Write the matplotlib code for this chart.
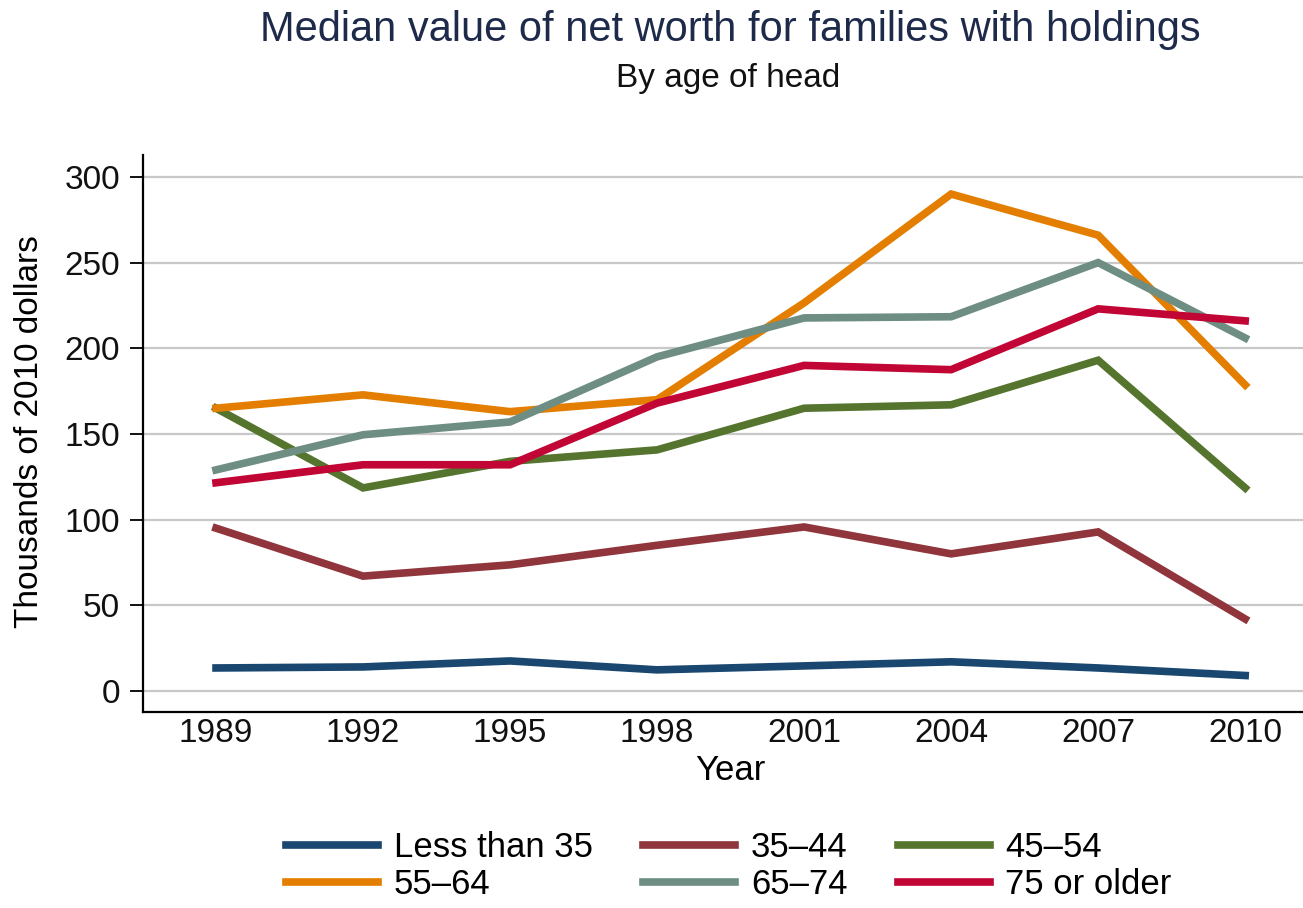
import matplotlib
matplotlib.use("Agg")
import matplotlib.pyplot as plt

plt.rcParams["font.family"] = ["Liberation Sans", "DejaVu Sans"]

years = [1989, 1992, 1995, 1998, 2001, 2004, 2007, 2010]
less35 = [13.4, 14.0, 17.5, 12.3, 14.6, 17.0, 13.4, 9.0]
age35_44 = [95.0, 67.0, 73.6, 85.0, 95.7, 80.0, 92.8, 42.0]
age45_54 = [165.0, 118.5, 134.0, 140.7, 165.0, 167.0, 193.0, 118.5]
age55_64 = [165.0, 172.8, 163.0, 170.0, 226.5, 290.0, 266.0, 178.6]
age65_74 = [129.0, 149.5, 157.0, 195.0, 217.7, 218.4, 250.0, 206.0]
age75up = [121.5, 132.0, 132.0, 168.0, 190.0, 187.5, 223.0, 216.0]

labels = ["Less than 35", "35\u201344", "45\u201354", "55\u201364", "65\u201374", "75 or older"]
colors = ["#1a476f", "#90353b", "#55752f", "#e37e00", "#6e8e84", "#c10534"]
series = [less35, age35_44, age45_54, age55_64, age65_74, age75up]

W, H = 1303, 908
fig = plt.figure(figsize=(W / 100, H / 100), dpi=100)
ax = fig.add_axes([143 / W, 1 - 712 / H, (W - 143) / W, (712 - 155) / H])

lines = []
for vals, lab, col in zip(series, labels, colors):
    l, = ax.plot(years, vals, color=col, lw=5.5, label=lab, solid_joinstyle="miter")
    lines.append(l)

ax.set_xlim(1987.51, 2011.18)
ax.set_ylim(-12.3, 312.8)
ax.set_xticks(years)
ax.set_yticks(range(0, 301, 50))
ax.yaxis.grid(True, color="#c8c8c8", lw=1.6)
ax.set_axisbelow(True)
for s in ["top", "right"]:
    ax.spines[s].set_visible(False)
ax.spines["left"].set_linewidth(1.6)
ax.spines["bottom"].set_linewidth(1.6)
ax.tick_params(axis="both", labelsize=24, colors="#111111")
ax.tick_params(axis="y", length=9.5, width=1.4, pad=7)
ax.tick_params(axis="x", length=0, pad=4)

fig.text(730 / W, 1 - 770 / H, "Year", ha="center", va="center", fontsize=25)
fig.text(30 / W, 1 - 432 / H, "Thousands of 2010 dollars", ha="center", va="center",
         rotation=90, fontsize=24)

fig.text(730 / W, 1 - 30 / H, "Median value of net worth for families with holdings",
         ha="center", va="center", fontsize=30, color="#1e2a4a")
fig.text(728 / W, 1 - 78 / H, "By age of head", ha="center", va="center", fontsize=24,
         color="#111111")

# legend: matplotlib fills columns, so reorder to get row-wise layout
order = [0, 3, 1, 4, 2, 5]
fig.legend([lines[i] for i in order], [labels[i] for i in order], ncol=3,
           loc="center", bbox_to_anchor=(0.5595, 1 - 866 / H), frameon=False,
           fontsize=25, handlelength=2.65, handletextpad=0.45, columnspacing=1.45,
           labelspacing=0.1, borderpad=0)

fig.savefig("out.png", dpi=100)
